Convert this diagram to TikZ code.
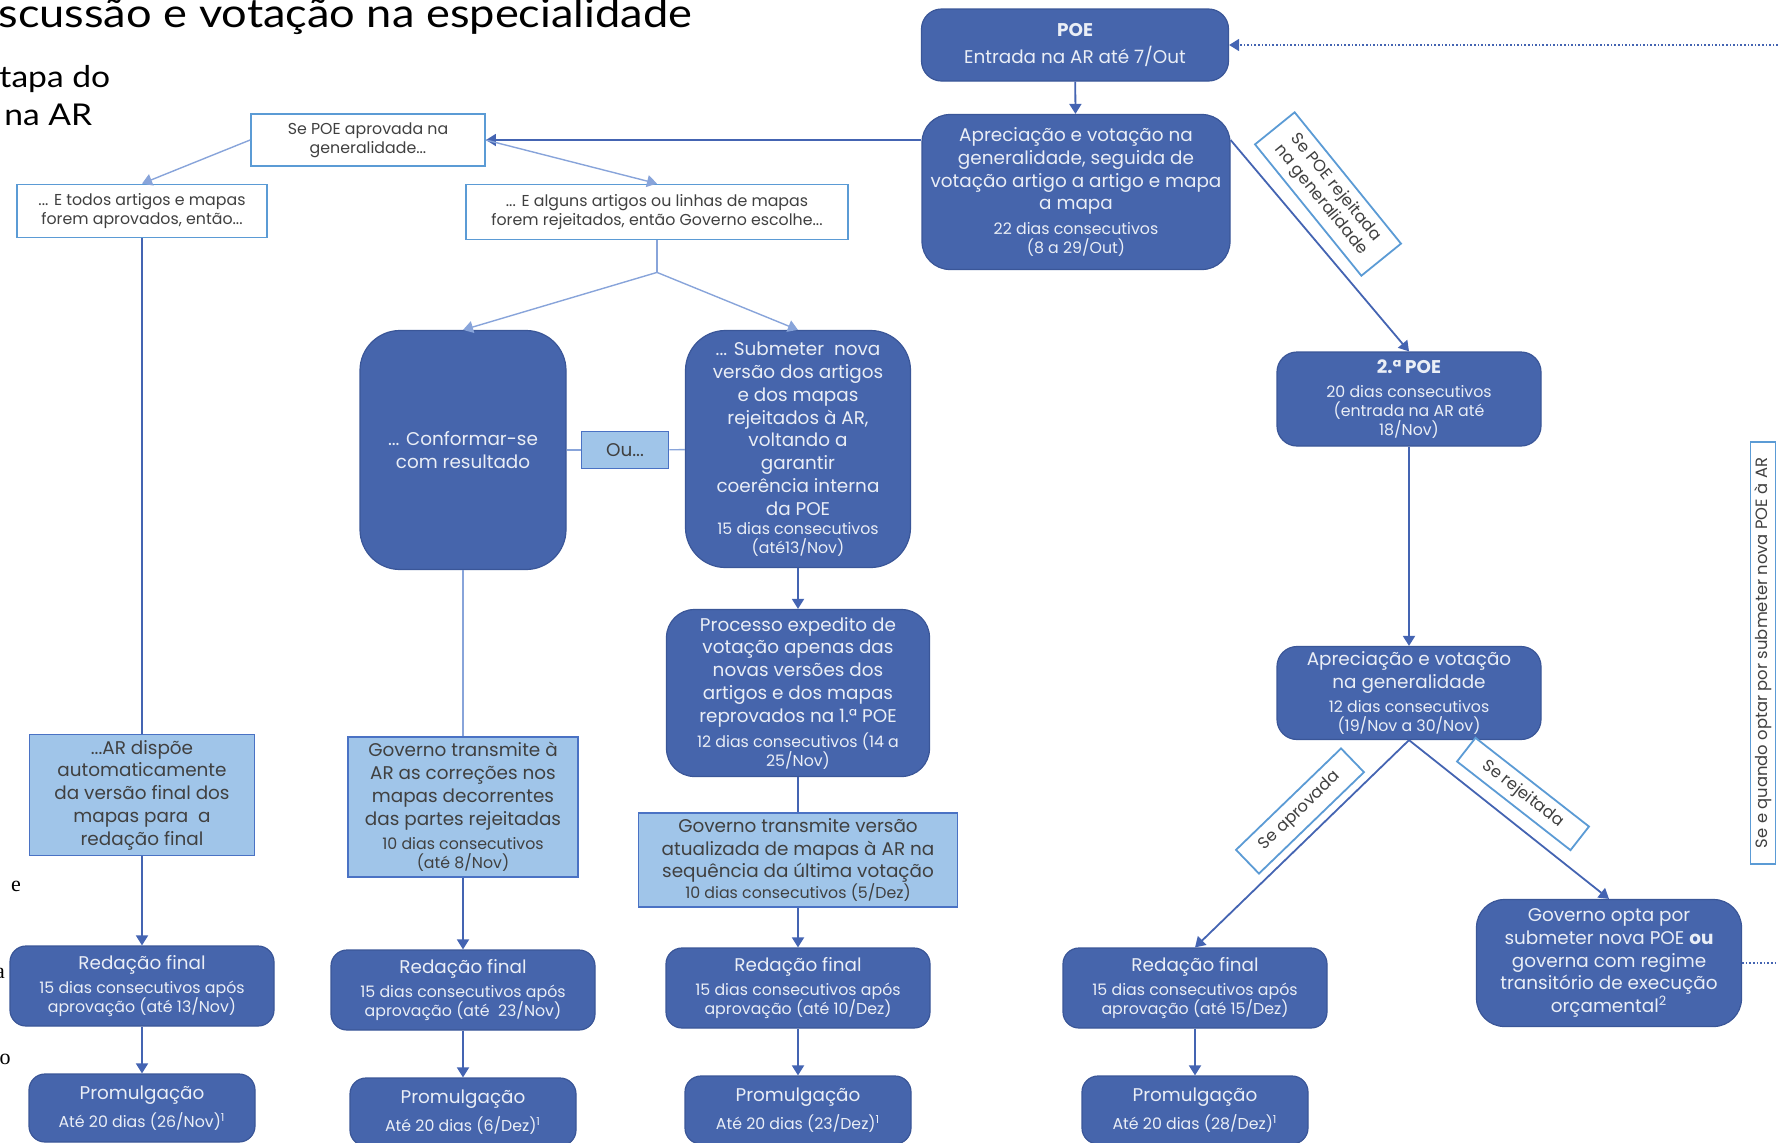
\documentclass[tikz,border=0pt]{standalone}
\usepackage{fontspec}
\setmainfont{Poppins}
\newfontfamily\headfont{Lato}
\newfontfamily\slidefont{Liberation Serif}
\usetikzlibrary{arrows.meta,positioning}

\definecolor{boxblue}{RGB}{70,101,172}
\definecolor{boxedge}{RGB}{58,86,152}
\definecolor{boxtext}{RGB}{234,238,246}
\definecolor{paleblue}{RGB}{160,197,233}
\definecolor{paleedge}{RGB}{74,114,196}
\definecolor{tagedge}{RGB}{91,155,213}
\definecolor{linkblue}{RGB}{68,100,178}
\definecolor{paleline}{RGB}{136,164,218}
\definecolor{greytext}{RGB}{64,64,64}

\newcommand{\bigtxt}{\fontsize{9.2}{11.4}\selectfont}
\newcommand{\lowtxt}{\fontsize{7.9}{9.5}\selectfont}
\newcommand{\tagtxt}{\fontsize{8.2}{9.6}\selectfont}

\tikzset{
  darkbox/.style={draw=boxedge, fill=boxblue, text=boxtext, align=center, font=\bigtxt, rounded corners=#1, inner sep=1pt, line width=0.6pt},
  darkbox/.default=8pt,
  palebox/.style={draw=paleedge, fill=paleblue, text=greytext, align=center, font=\bigtxt, inner sep=1pt, line width=0.8pt},
  tagbox/.style={draw=tagedge, fill=white, text=greytext, align=center, font=\lowtxt, inner sep=1pt, line width=0.9pt},
  link/.style={draw=linkblue, line width=0.9pt},
  thinlink/.style={draw=paleline, line width=0.7pt},
  arr/.style={link, -{Triangle[width=6pt,length=5pt]}},
  larr/.style={thinlink, -{Triangle[width=6pt,length=5pt]}},
  dotlink/.style={draw=linkblue, line width=0.8pt, densely dotted},
  dotarr/.style={dotlink, -{Triangle[width=6pt,length=5pt]}},
}

\begin{document}
\begin{tikzpicture}[x=0.5pt, y=-0.5pt, node distance=61pt]
  \useasboundingbox (0,0) rectangle (1778,1142);
  \clip (0,0) rectangle (1778,1142);

  % Slide text cut by the frame
  \node[anchor=base west, inner sep=0, xscale=1.13, font=\headfont\fontsize{20}{20}\selectfont] (title) at (-2,27) {scussão e votação na especialidade};
  \node[anchor=base west, inner sep=0, xscale=1.12, font=\headfont\fontsize{15}{17}\selectfont] (stagea) at (-1,87) {tapa do};
  \node[anchor=base west, inner sep=0, xscale=1.12, font=\headfont\fontsize{15}{17}\selectfont] (stageb) at (4,125) {na AR};
  \node[font=\slidefont\fontsize{11}{12}\selectfont, inner sep=0] (frage) at (16,886) {e};
  \node[font=\slidefont\fontsize{11}{12}\selectfont, inner sep=0] (fraga) at (0,973) {a};
  \node[font=\slidefont\fontsize{11}{12}\selectfont, inner sep=0] (frago) at (5,1059) {o};

  % Nodes
  \node[darkbox=10pt, minimum width=153.5pt, minimum height=36pt] (poe) at (1075,45) {\textbf{POE}\\[2pt]Entrada na AR até 7/Out};
  \node[darkbox=14pt, minimum width=154pt, minimum height=77.5pt] (apr1) at (1076,192) {Apreciação e votação na\\generalidade, seguida de\\votação artigo a artigo e mapa\\a mapa\\[1pt]\lowtxt 22 dias consecutivos\\[-1.9pt]\lowtxt (8 a 29/Out)};
  \node[tagbox, minimum width=117pt, minimum height=26pt] (sepoe) at (368,140) {Se POE aprovada na\\generalidade...};
  \node[tagbox, minimum width=125pt, minimum height=26.5pt] (todos) at (142,211) {... E todos artigos e mapas\\forem aprovados, então...};
  \node[tagbox, minimum width=191pt, minimum height=27.5pt] (alguns) at (657,212) {... E alguns artigos ou linhas de mapas\\forem rejeitados, então Governo escolhe...};
  \node[darkbox=20pt, minimum width=103pt, minimum height=119.5pt] (conform) at (463,450) {... Conformar-se\\com resultado};
  \node[palebox, minimum width=43.5pt, minimum height=18.5pt] (ou) at (625,450) {Ou...};
  \node[darkbox=20pt, minimum width=112.5pt, minimum height=118.5pt] (submeter) at (798,449) {... Submeter \ nova\\versão dos artigos\\e dos mapas\\rejeitados à AR,\\voltando a\\garantir\\coerência interna\\da POE\\[-2pt]\lowtxt 15 dias consecutivos\\[-1.9pt]\lowtxt (até13/Nov)};
  \node[darkbox=14pt, minimum width=131.5pt, minimum height=83.5pt] (processo) at (798,693) {Processo expedito de\\votação apenas das\\novas versões dos\\artigos e dos mapas\\reprovados na 1.ª POE\\[1pt]\lowtxt 12 dias consecutivos (14 a\\[-1.9pt]\lowtxt 25/Nov)};
  \node[palebox, minimum width=159.5pt, minimum height=47pt] (govversao) at (798,860) {Governo transmite versão\\atualizada de mapas à AR na\\sequência da última votação\\[-1pt]\lowtxt 10 dias consecutivos (5/Dez)};
  \node[palebox, minimum width=115pt, minimum height=70pt] (govar) at (463,807) {Governo transmite à\\AR as correções nos\\mapas decorrentes\\das partes rejeitadas\\[1pt]\lowtxt 10 dias consecutivos\\[-1.9pt]\lowtxt (até 8/Nov)};
  \node[palebox, minimum width=112.5pt, minimum height=60.5pt] (ardispoe) at (142,795) {...AR dispõe\\automaticamente\\da versão final dos\\mapas para \ a\\redação final};
  \node[darkbox=10pt, minimum width=132pt, minimum height=47pt] (poe2) at (1409,399) {\textbf{2.ª POE}\\[1pt]\lowtxt 20 dias consecutivos\\[-1.9pt]\lowtxt (entrada na AR até\\[-1.9pt]\lowtxt 18/Nov)};
  \node[darkbox=10pt, minimum width=132pt, minimum height=46.5pt] (apr2) at (1409,693) {Apreciação e votação\\na generalidade\\[1pt]\lowtxt 12 dias consecutivos\\[-1.9pt]\lowtxt (19/Nov a 30/Nov)};
  \node[darkbox=14pt, minimum width=132.5pt, minimum height=63.5pt] (govopta) at (1609,963) {Governo opta por\\submeter nova POE \textbf{ou}\\governa com regime\\transitório de execução\\orçamental\textsuperscript{2}};

  \node[darkbox=8pt, minimum width=132pt, minimum height=40pt] (red1) at (142,986) {Redação final\\[1pt]\lowtxt 15 dias consecutivos após\\[-1.9pt]\lowtxt aprovação (até 13/Nov)};
  \node[darkbox=8pt, minimum width=132pt, minimum height=40pt] (red2) at (463,990) {Redação final\\[1pt]\lowtxt 15 dias consecutivos após\\[-1.9pt]\lowtxt aprovação (até \ 23/Nov)};
  \node[darkbox=8pt, minimum width=132pt, minimum height=40pt] (red3) at (798,988) {Redação final\\[1pt]\lowtxt 15 dias consecutivos após\\[-1.9pt]\lowtxt aprovação (até 10/Dez)};
  \node[darkbox=8pt, minimum width=132pt, minimum height=40pt] (red4) at (1195,988) {Redação final\\[1pt]\lowtxt 15 dias consecutivos após\\[-1.9pt]\lowtxt aprovação (até 15/Dez)};

  \node[darkbox=8pt, minimum width=113pt, minimum height=34pt, below of=red1] (prom1) {Promulgação\\[2.5pt]\lowtxt Até 20 dias (26/Nov)\textsuperscript{1}};
  \node[darkbox=8pt, minimum width=113pt, minimum height=34pt, below of=red2] (prom2) {Promulgação\\[2.5pt]\lowtxt Até 20 dias (6/Dez)\textsuperscript{1}};
  \node[darkbox=8pt, minimum width=113pt, minimum height=34pt, below of=red3] (prom3) {Promulgação\\[2.5pt]\lowtxt Até 20 dias (23/Dez)\textsuperscript{1}};
  \node[darkbox=8pt, minimum width=113pt, minimum height=34pt, below of=red4] (prom4) {Promulgação\\[2.5pt]\lowtxt Até 20 dias (28/Dez)\textsuperscript{1}};

  \coordinate[below=16pt of alguns] (fork);
  \coordinate (edgein) at (1778,45);
  \coordinate (edgeout) at (1778,963);

  % Arrows
  \draw[arr] (poe) -- (apr1);
  \draw[arr] (apr1.west |- sepoe) -- (sepoe);
  \draw[larr] (sepoe.west) -- (todos.north);
  \draw[larr] (sepoe.east) -- (alguns.north);
  \draw[thinlink] (alguns) -- (fork);
  \draw[larr] (fork) -- (conform.north);
  \draw[larr] (fork) -- (submeter.north);
  \draw[link] (todos) -- (ardispoe);
  \draw[thinlink] (conform) -- (ou);
  \draw[thinlink] (ou) -- (submeter);
  \draw[thinlink] (conform) -- (govar);
  \draw[arr] (submeter) -- (processo);
  \draw[link] (processo) -- (govversao);
  \draw[arr] (govversao) -- (red3);
  \draw[arr] (ardispoe) -- (red1);
  \draw[arr] (govar) -- (red2);
  \draw[arr] (red1) -- (prom1);
  \draw[arr] (red2) -- (prom2);
  \draw[arr] (red3) -- (prom3);
  \draw[arr] (red4) -- (prom4);
  \draw[arr] (apr1.east |- sepoe) -- (poe2.north);
  \draw[arr] (poe2) -- (apr2);
  \draw[arr] (apr2.south) -- (red4.north);
  \draw[arr] (apr2.south) -- (govopta.north);
  \draw[dotarr] (edgein) -- (poe);
  \draw[dotlink] (govopta) -- (edgeout);

  % Branch labels
  \node[tagbox, rotate=-51, minimum width=84.5pt, minimum height=25.5pt, font=\tagtxt] (rejgen) at (1328,194) {Se POE rejeitada\\na generalidade};
  \node[tagbox, rotate=44, minimum width=73pt, minimum height=16.5pt, font=\tagtxt] (aprov) at (1300,811) {Se aprovada};
  \node[tagbox, rotate=-38, minimum width=72pt, minimum height=15pt, font=\tagtxt] (rejeit) at (1523,794) {Se rejeitada};
  \node[tagbox, rotate=90, minimum width=211pt, minimum height=12.5pt, font=\tagtxt] (novapoe) at (1763,653) {Se e quando optar por submeter nova POE à AR};
\end{tikzpicture}
\end{document}
